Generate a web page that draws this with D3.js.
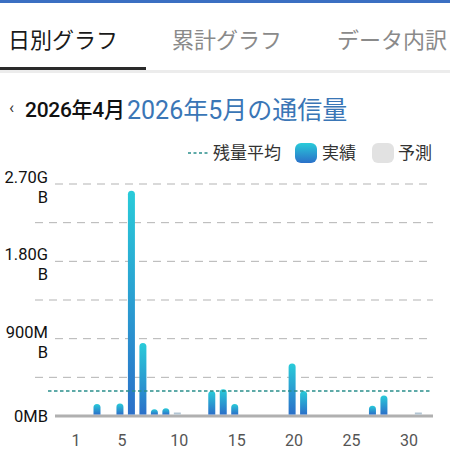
<!DOCTYPE html>
<html>
<head>
<meta charset="utf-8">
<script src="https://cdn.jsdelivr.net/npm/d3@7/dist/d3.min.js"></script>
<style>
  body { margin:0; background:#fff; }
  svg { display:block; font-family: Roboto, "Noto Sans CJK JP", sans-serif; }
</style>
</head>
<body>
<script>
// daily usage in MB, May 2026
var days = d3.range(1, 32);
var usage = [0,0,140,0,145,2620,850,80,90,8,0,0,290,310,140,0,0,0,0,610,290,0,0,0,0,0,120,240,0,0,8];
var average = 290;
var yTicks = [0,450,900,1350,1800,2250,2700];
var yLabels = {0:["0MB"], 900:["900M","B"], 1800:["1.80G","B"], 2700:["2.70G","B"]};
var xLabels = [1,5,10,15,20,25,30];
var tabs = ["日別グラフ","累計グラフ","データ内訳"];

var W = 450, H = 450;
var svg = d3.select("body").append("svg").attr("width", W).attr("height", H);

var defs = svg.append("defs");
var grad = defs.append("linearGradient").attr("id","barGrad")
    .attr("x1",0).attr("y1",0).attr("x2",0).attr("y2",1);
grad.append("stop").attr("offset","0%").attr("stop-color","#29cbd9");
grad.append("stop").attr("offset","100%").attr("stop-color","#2b70c9");

// top strip + tabs
svg.append("rect").attr("x",0).attr("y",0).attr("width",W).attr("height",3).attr("fill","#3b6fc2");
svg.selectAll("text.tab").data(tabs).enter().append("text")
    .attr("class","tab")
    .attr("x", function(d,i){ return [8,172,337][i]; })
    .attr("y", 48)
    .attr("font-size", 22)
    .attr("font-family", "'Noto Sans CJK JP', sans-serif")
    .attr("fill", function(d,i){ return i==0 ? "#1a1a1a" : "#8a8a8a"; })
    .text(function(d){ return d; });
svg.append("rect").attr("x",0).attr("y",70).attr("width",W).attr("height",3).attr("fill","#ececec");
svg.append("rect").attr("x",0).attr("y",67).attr("width",146).attr("height",3).attr("fill","#2a2a2a");

// title
svg.append("text").attr("x",9).attr("y",113).attr("font-size",17).attr("fill","#333").text("‹");
svg.append("text").attr("x",25).attr("y",117).attr("font-size",21).attr("fill","#111")
    .attr("font-weight",500).attr("letter-spacing",-0.3).text("2026年4月");
svg.append("text").attr("x",127).attr("y",119).attr("font-size",25).attr("fill","#3a76b6")
    .text("2026年5月の通信量");

// legend
var lg = svg.append("g").attr("font-size",17).attr("fill","#333")
    .attr("font-family","'Noto Sans CJK JP', sans-serif");
lg.append("line").attr("x1",188).attr("x2",208).attr("y1",153).attr("y2",153)
    .attr("stroke","#2a8f8c").attr("stroke-width",1.5).attr("stroke-dasharray","3,2.5");
lg.append("text").attr("x",213).attr("y",159).text("残量平均");
lg.append("rect").attr("x",295).attr("y",143).attr("width",22).attr("height",20).attr("rx",6)
    .attr("fill","url(#barGrad)");
lg.append("text").attr("x",322).attr("y",159).text("実績");
lg.append("rect").attr("x",372).attr("y",143).attr("width",22).attr("height",20).attr("rx",6)
    .attr("fill","#e2e2e2");
lg.append("text").attr("x",398).attr("y",159).text("予測");

// scales
var x = d3.scaleBand().domain(days).range([68.3, 424.1]).paddingInner(0.4).paddingOuter(0.2);
var y = d3.scaleLinear().domain([0, 2700]).range([416, 184]);

// grid lines
svg.append("g").selectAll("line").data(yTicks.filter(function(t){ return t > 0; })).enter()
  .append("line")
    .attr("x1", function(d){ return yLabels[d] ? 55 : 35; })
    .attr("x2", function(d){ return yLabels[d] ? 428 : 433; })
    .attr("y1", function(d){ return y(d); })
    .attr("y2", function(d){ return y(d); })
    .attr("stroke","#b3b3b3").attr("stroke-width",1).attr("stroke-dasharray","8,6");

// y labels
var yl = svg.append("g").attr("font-size",16.5).attr("fill","#111").attr("text-anchor","end");
yTicks.forEach(function(t){
  var lines = yLabels[t];
  if (!lines) return;
  var t0 = yl.append("text").attr("x",48).attr("y", lines.length > 1 ? y(t) - 1 : y(t) + 6);
  lines.forEach(function(s,i){
    t0.append("tspan").attr("x",48).attr("dy", i==0 ? 0 : 20).text(s);
  });
});

// baseline
svg.append("line").attr("x1",55).attr("x2",433).attr("y1",y(0)).attr("y2",y(0))
    .attr("stroke","#b0b0b0").attr("stroke-width",3);

// bars with rounded top
var bw = 7;
svg.append("g").selectAll("path").data(days.filter(function(d){ return usage[d-1] > 0; })).enter()
  .append("path")
    .attr("d", function(d){
      var cx = x(d) + x.bandwidth()/2, x0 = cx - bw/2, yt = y(usage[d-1]), yb = y(0) - 1.5;
      var r = Math.min(bw/2, (yb - yt));
      if (yb - yt < 3) return "M"+x0+","+yb+"V"+(yb-2)+"H"+(x0+bw)+"V"+yb+"Z";
      return "M"+x0+","+yb+"V"+(yt+r)+"A"+r+","+r+" 0 0 1 "+(x0+bw)+","+(yt+r)+"V"+yb+"Z";
    })
    .attr("fill", function(d){ return usage[d-1] < 30 ? "#b3c5d3" : "url(#barGrad)"; });

// average line
svg.append("line").attr("x1",48).attr("x2",432).attr("y1",y(average)).attr("y2",y(average))
    .attr("stroke","#2a8f8c").attr("stroke-width",1.5).attr("stroke-dasharray","3.5,2.5");

// x labels
svg.append("g").selectAll("text").data(xLabels).enter().append("text")
    .attr("x", function(d){ return x(d) + x.bandwidth()/2 + 2; })
    .attr("y", 446)
    .attr("text-anchor","middle")
    .attr("font-size",16)
    .attr("fill","#555")
    .text(function(d){ return d; });
</script>
</body>
</html>
